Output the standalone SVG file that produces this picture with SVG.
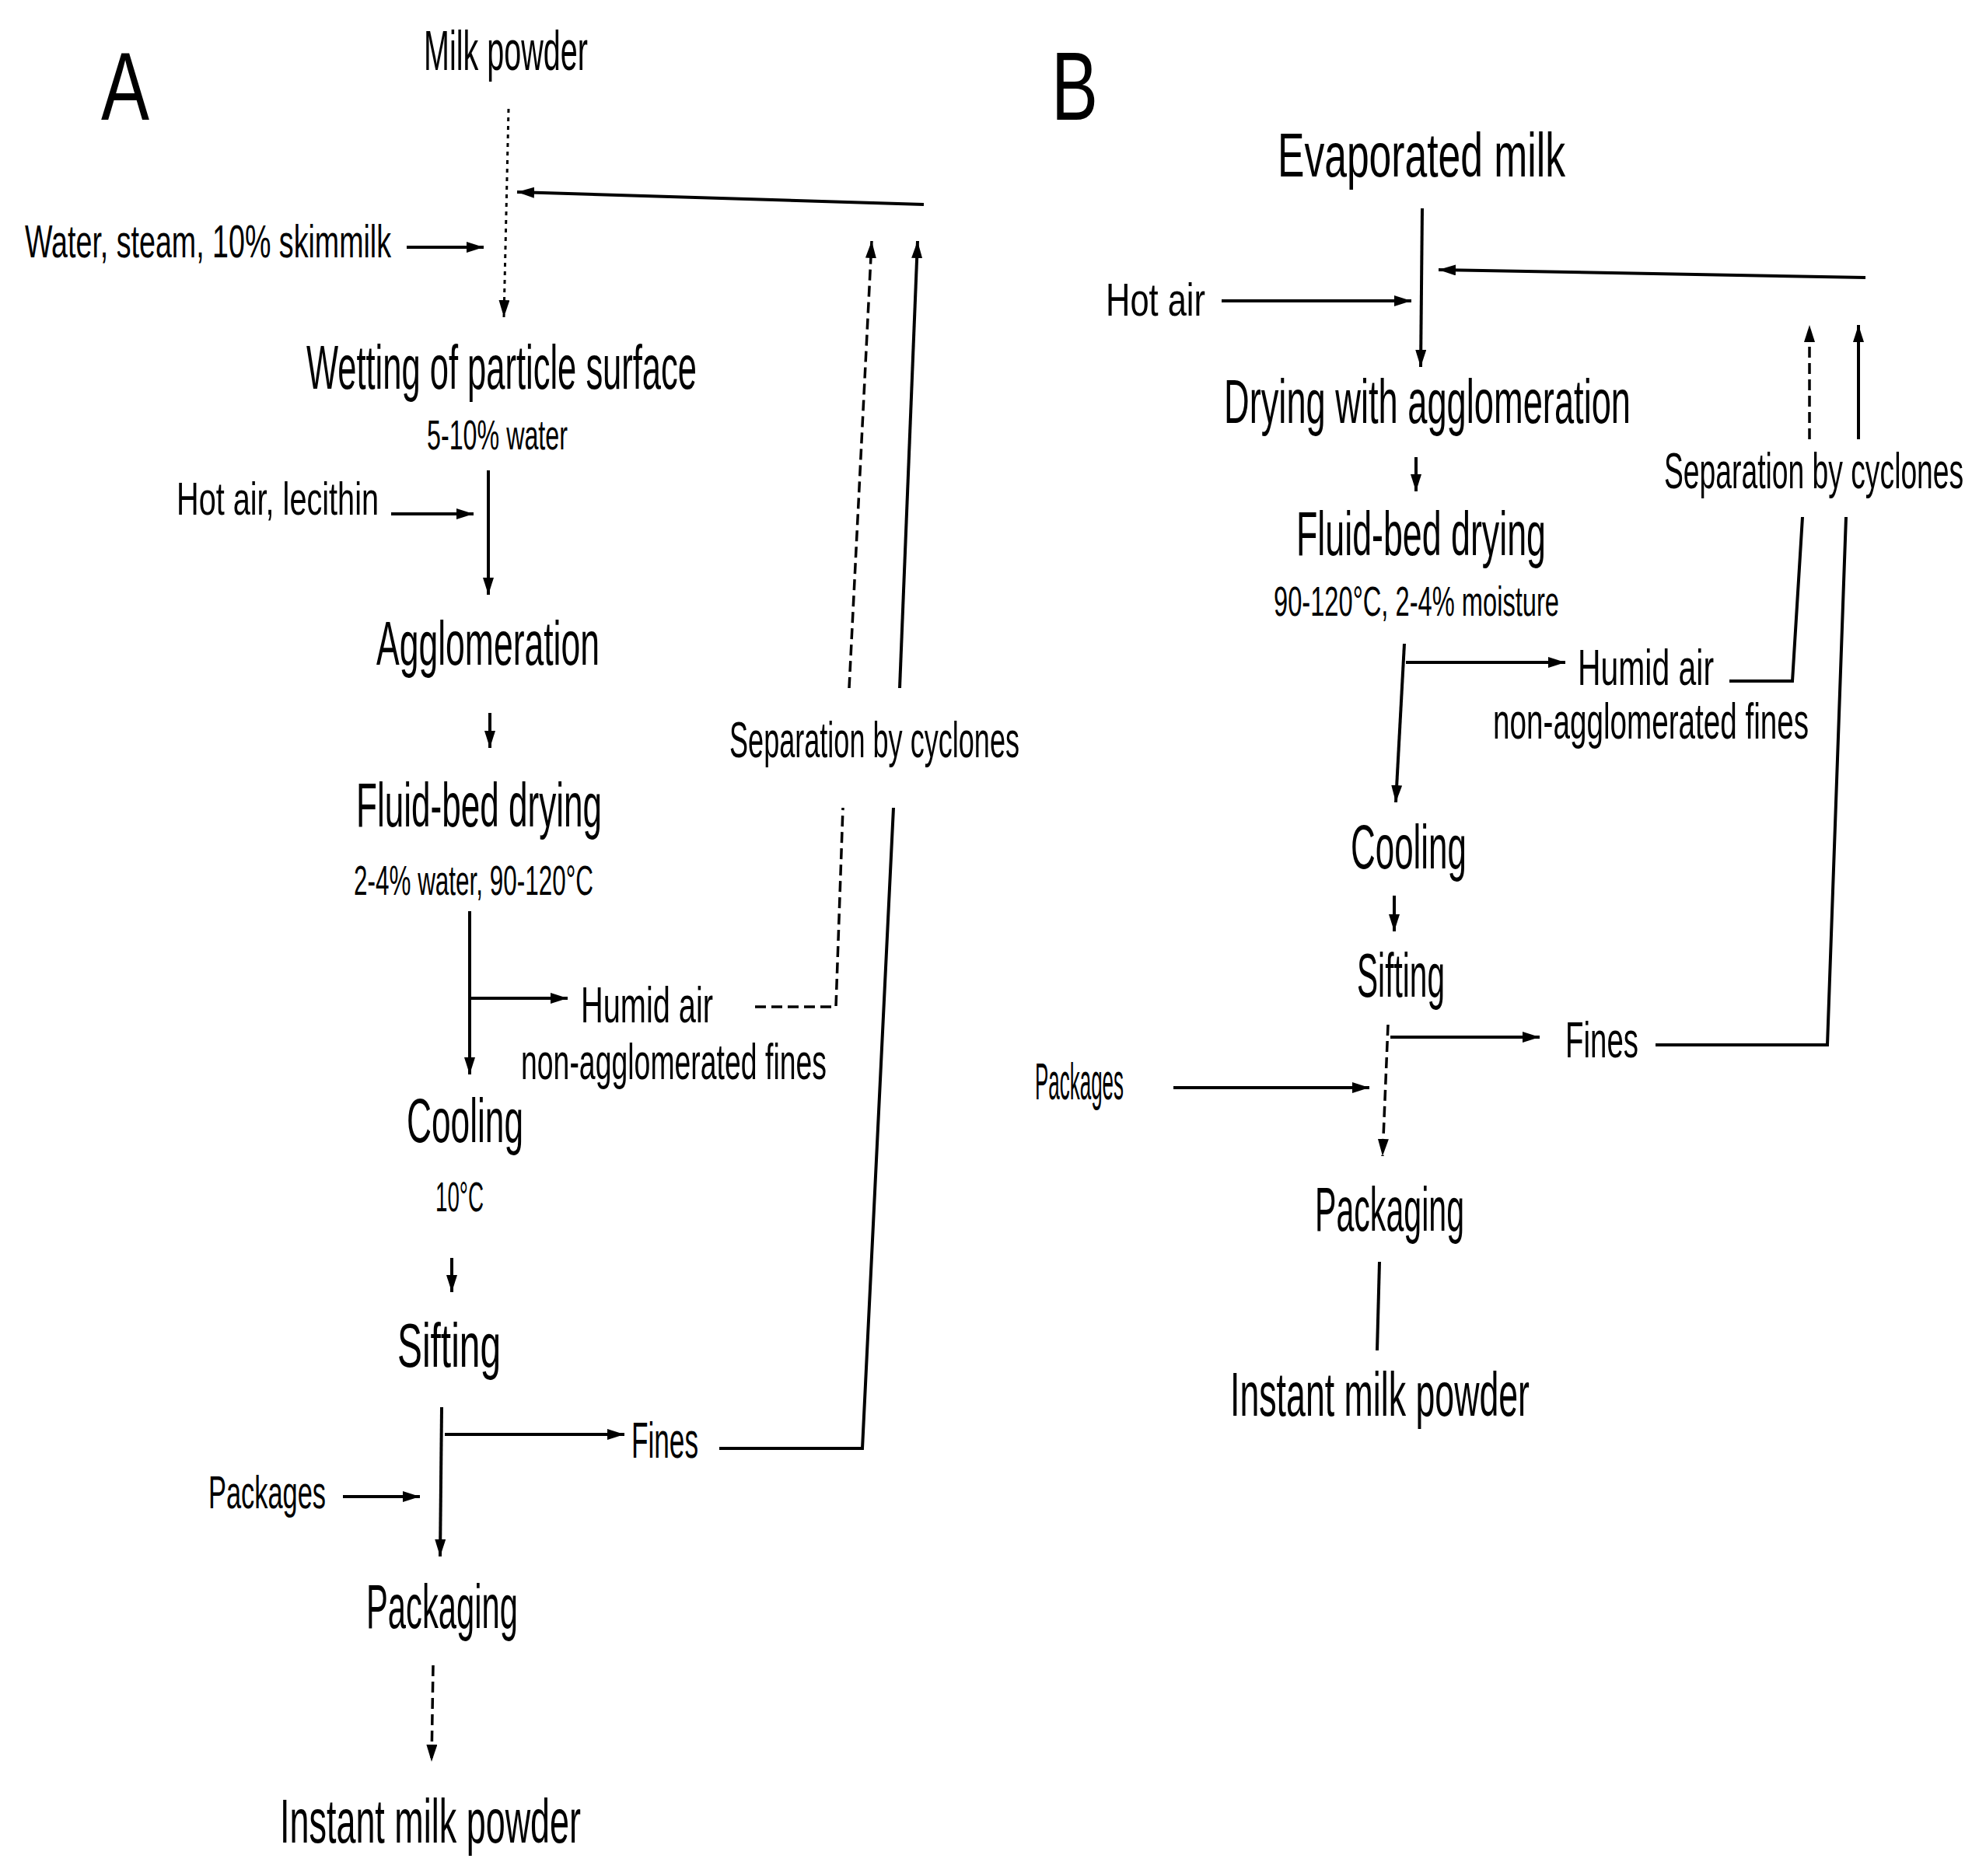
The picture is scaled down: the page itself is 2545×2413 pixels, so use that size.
<svg xmlns="http://www.w3.org/2000/svg" width="2545" height="2413" viewBox="0 0 2545 2413">
<style>
text{font-family:"Liberation Sans","Arial",sans-serif;fill:#000;}
.big{font-size:80px;}
.mid{font-size:64px;}
.sec{font-size:60px;}
.sub{font-size:54px;}
.lab{font-size:124px;}
.ln{fill:none;stroke:#000;stroke-width:4;}
.dl{fill:none;stroke:#000;stroke-width:3.5;stroke-dasharray:14 7;}
.dt{fill:none;stroke:#000;stroke-width:3;stroke-dasharray:5 6;}
</style>
<defs>
<marker id="ah" markerUnits="userSpaceOnUse" markerWidth="22" markerHeight="14" refX="22" refY="7" orient="auto">
<path d="M0,0 L22,7 L0,14 z" fill="#000"/>
</marker>
</defs>
<rect width="2545" height="2413" fill="#fff"/>

<g id="connectors">
<!-- Panel A -->
<path class="dt" d="M654,140 L648,408" marker-end="url(#ah)"/>
<path class="ln" d="M523,318 L622,318" marker-end="url(#ah)"/>
<path class="ln" d="M1188,263 L665,247" marker-end="url(#ah)"/>
<path class="ln" d="M503,661 L609,661" marker-end="url(#ah)"/>
<path class="ln" d="M628,605 L628,765" marker-end="url(#ah)"/>
<path class="ln" d="M630,917 L630,962" marker-end="url(#ah)"/>
<path class="ln" d="M604,1172 L604,1382" marker-end="url(#ah)"/>
<path class="ln" d="M606,1284 L730,1284" marker-end="url(#ah)"/>
<path class="dl" d="M971,1295 L1075,1295 L1084,1039"/>
<path class="dl" d="M1092,885 L1121,310" marker-end="url(#ah)"/>
<path class="ln" d="M925,1863 L1109,1863 L1149,1039"/>
<path class="ln" d="M1157,885 L1180,310" marker-end="url(#ah)"/>
<path class="ln" d="M581,1618 L581,1662" marker-end="url(#ah)"/>
<path class="ln" d="M568,1810 L566,2002" marker-end="url(#ah)"/>
<path class="ln" d="M572,1845 L803,1845" marker-end="url(#ah)"/>
<path class="ln" d="M441,1925 L540,1925" marker-end="url(#ah)"/>
<path class="dl" d="M557,2142 L555,2266" marker-end="url(#ah)"/>
<!-- Panel B -->
<path class="ln" d="M1829,268 L1827,472" marker-end="url(#ah)"/>
<path class="ln" d="M1571,387 L1815,387" marker-end="url(#ah)"/>
<path class="ln" d="M2399,357 L1850,347" marker-end="url(#ah)"/>
<path class="ln" d="M1821,588 L1821,632" marker-end="url(#ah)"/>
<path class="ln" d="M1806,828 L1795,1032" marker-end="url(#ah)"/>
<path class="ln" d="M1808,852 L2013,852" marker-end="url(#ah)"/>
<path class="ln" d="M2224,876 L2305,876 L2318,665"/>
<path class="dl" d="M2327,565 L2327,418" marker-end="url(#ah)"/>
<path class="ln" d="M2390,565 L2390,418" marker-end="url(#ah)"/>
<path class="ln" d="M1793,1152 L1793,1198" marker-end="url(#ah)"/>
<path class="dl" d="M1785,1318 L1778,1487" marker-end="url(#ah)"/>
<path class="ln" d="M1788,1334 L1980,1334" marker-end="url(#ah)"/>
<path class="ln" d="M2129,1344 L2350,1344 L2374,665"/>
<path class="ln" d="M1509,1399 L1761,1399" marker-end="url(#ah)"/>
<path class="ln" d="M1774,1623 L1771,1737"/>
</g>

<g id="label-A"><text class="lab" x="130" y="154" textLength="62" lengthAdjust="spacingAndGlyphs">A</text></g>
<g id="n-milk-powder"><text style="font-size:72px" x="545" y="90" textLength="211" lengthAdjust="spacingAndGlyphs">Milk powder</text></g>
<g id="n-water"><text class="sec" x="32" y="331" textLength="471" lengthAdjust="spacingAndGlyphs">Water, steam, 10% skimmilk</text></g>
<g id="n-wetting">
<text class="big" x="394" y="500" textLength="502" lengthAdjust="spacingAndGlyphs">Wetting of particle surface</text>
<text class="sub" x="549" y="578" textLength="181" lengthAdjust="spacingAndGlyphs">5-10% water</text>
</g>
<g id="n-hotair-lecithin"><text class="sec" x="227" y="662" textLength="260" lengthAdjust="spacingAndGlyphs">Hot air, lecithin</text></g>
<g id="n-agglomeration"><text class="big" x="484" y="855" textLength="287" lengthAdjust="spacingAndGlyphs">Agglomeration</text></g>
<g id="n-fluid-bed-A">
<text class="big" x="458" y="1063" textLength="316" lengthAdjust="spacingAndGlyphs">Fluid-bed drying</text>
<text class="sub" x="455" y="1151" textLength="308" lengthAdjust="spacingAndGlyphs">2-4% water, 90-120°C</text>
</g>
<g id="n-humid-A">
<text class="mid" x="747" y="1315" textLength="170" lengthAdjust="spacingAndGlyphs">Humid air</text>
<text class="mid" x="670" y="1388" textLength="393" lengthAdjust="spacingAndGlyphs">non-agglomerated fines</text>
</g>
<g id="n-cyclones-A"><text class="mid" x="938" y="974" textLength="373" lengthAdjust="spacingAndGlyphs">Separation by cyclones</text></g>
<g id="n-cooling-A">
<text class="big" x="523" y="1469" textLength="150" lengthAdjust="spacingAndGlyphs">Cooling</text>
<text class="sub" x="560" y="1558" textLength="62" lengthAdjust="spacingAndGlyphs">10°C</text>
</g>
<g id="n-sifting-A"><text class="big" x="511" y="1758" textLength="133" lengthAdjust="spacingAndGlyphs">Sifting</text></g>
<g id="n-fines-A"><text class="mid" x="812" y="1875" textLength="86" lengthAdjust="spacingAndGlyphs">Fines</text></g>
<g id="n-packages-A"><text class="sec" x="268" y="1940" textLength="151" lengthAdjust="spacingAndGlyphs">Packages</text></g>
<g id="n-packaging-A"><text class="big" x="471" y="2094" textLength="195" lengthAdjust="spacingAndGlyphs">Packaging</text></g>
<g id="n-instant-A"><text class="big" x="360" y="2370" textLength="387" lengthAdjust="spacingAndGlyphs">Instant milk powder</text></g>

<g id="label-B"><text class="lab" x="1352" y="154" textLength="60" lengthAdjust="spacingAndGlyphs">B</text></g>
<g id="n-evaporated"><text class="big" x="1643" y="227" textLength="370" lengthAdjust="spacingAndGlyphs">Evaporated milk</text></g>
<g id="n-hotair-B"><text class="sec" x="1422" y="406" textLength="128" lengthAdjust="spacingAndGlyphs">Hot air</text></g>
<g id="n-drying-agglo"><text class="big" x="1574" y="544" textLength="523" lengthAdjust="spacingAndGlyphs">Drying with agglomeration</text></g>
<g id="n-fluid-bed-B">
<text class="big" x="1667" y="714" textLength="321" lengthAdjust="spacingAndGlyphs">Fluid-bed drying</text>
<text class="sub" x="1638" y="792" textLength="367" lengthAdjust="spacingAndGlyphs">90-120°C, 2-4% moisture</text>
</g>
<g id="n-humid-B">
<text class="mid" x="2029" y="881" textLength="175" lengthAdjust="spacingAndGlyphs">Humid air</text>
<text class="mid" transform="translate(1920,950) scale(0.6,1)" x="0" y="0" textLength="677" lengthAdjust="spacingAndGlyphs">non-agglomerated fines</text>
</g>
<g id="n-cyclones-B"><text class="mid" transform="translate(2140,628) scale(0.6,1)" x="0" y="0" textLength="642" lengthAdjust="spacingAndGlyphs">Separation by cyclones</text></g>
<g id="n-cooling-B"><text class="big" x="1737" y="1117" textLength="149" lengthAdjust="spacingAndGlyphs">Cooling</text></g>
<g id="n-sifting-B"><text class="big" x="1745" y="1282" textLength="113" lengthAdjust="spacingAndGlyphs">Sifting</text></g>
<g id="n-fines-B"><text class="mid" x="2013" y="1360" textLength="94" lengthAdjust="spacingAndGlyphs">Fines</text></g>
<g id="n-packages-B"><text style="font-size:66px" x="1331" y="1414" textLength="114" lengthAdjust="spacingAndGlyphs">Packages</text></g>
<g id="n-packaging-B"><text class="big" x="1691" y="1583" textLength="192" lengthAdjust="spacingAndGlyphs">Packaging</text></g>
<g id="n-instant-B"><text class="big" x="1582" y="1821" textLength="385" lengthAdjust="spacingAndGlyphs">Instant milk powder</text></g>
</svg>
